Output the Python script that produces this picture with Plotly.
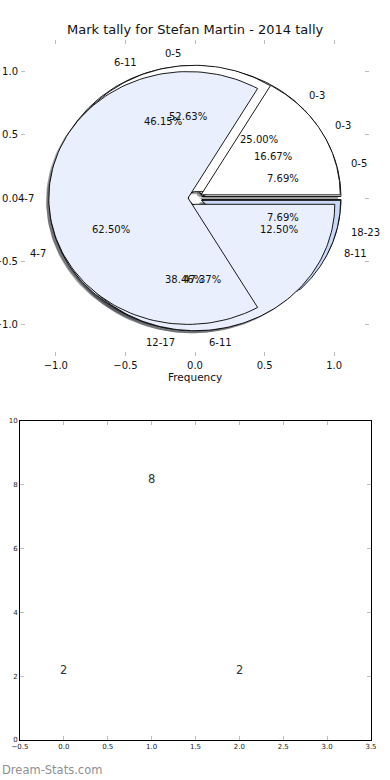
import numpy as np
import plotly.graph_objects as go

W, H = 390, 780

# ---------------- data ----------------
# overlapping pies (drawn bottom -> top), each wedge exploded
pie_b_labels = ["0-5", "6-11", "12-17", "18-23"]
pie_b_values = [1, 6, 5, 1]

pie_c_labels = ["0-3", "4-7", "8-11"]
pie_c_values = [2, 5, 1]

pie_a_labels = ["0-5", "6-11"]
pie_a_values = [10, 9]

pie_d_labels = ["0-3", "4-7"]
pie_d_values = [1, 4]
pie_d_total = 6            # fractions not normalised: this pie does not close
pie_d_show_pct = [True, False]

bar_x = [0, 1, 2]
bar_values = [2, 8, 2]

title_text = "Mark tally for Stefan Martin - 2014 tally"
xlabel_text = "Frequency"
watermark_text = "Dream-Stats.com"

# ---------------- style ----------------
WHITE = (255, 255, 255)
LIGHT = (233, 239, 252)
DARK = (200, 216, 246)
palette = [WHITE, LIGHT, DARK]
EXPLODE = 0.05
FONT = "DejaVu Sans"


def rgb(c, a=None):
    if a is None:
        return "rgb(%d,%d,%d)" % c
    return "rgba(%d,%d,%d,%.2f)" % (c[0], c[1], c[2], a)


pies = [
    dict(labels=pie_b_labels, values=pie_b_values, total=sum(pie_b_values),
         show_pct=[True] * len(pie_b_values)),
    dict(labels=pie_c_labels, values=pie_c_values, total=sum(pie_c_values),
         show_pct=[True] * len(pie_c_values)),
    dict(labels=pie_a_labels, values=pie_a_values, total=sum(pie_a_values),
         show_pct=[True] * len(pie_a_values)),
    dict(labels=pie_d_labels, values=pie_d_values, total=pie_d_total,
         show_pct=pie_d_show_pct),
]

# compute wedges
wedges = []
for p in pies:
    t1 = 0.0
    for i, (lab, v) in enumerate(zip(p["labels"], p["values"])):
        frac = v / p["total"]
        t2 = t1 + 360.0 * frac
        mid = np.deg2rad((t1 + t2) / 2)
        cx, cy = EXPLODE * np.cos(mid), EXPLODE * np.sin(mid)
        ts = np.deg2rad(np.linspace(t1, t2, 120))
        xs = np.concatenate([[cx], cx + np.cos(ts), [cx]])
        ys = np.concatenate([[cy], cy + np.sin(ts), [cy]])
        wedges.append(dict(x=xs, y=ys, color=palette[i % len(palette)], label=lab,
                           pct=100 * frac, mid=mid, show_pct=p["show_pct"][i]))
        t1 = t2

fig = go.Figure()

# shadows first (below every wedge)
for w in wedges:
    sc = tuple(int(round(0.3 * c)) for c in w["color"])
    fig.add_trace(go.Scatter(x=w["x"] - 0.02, y=w["y"] - 0.02, mode="lines", fill="toself",
                             fillcolor=rgb(sc, 0.5), line=dict(width=0), hoverinfo="skip",
                             showlegend=False, xaxis="x", yaxis="y"))
# wedges
for w in wedges:
    fig.add_trace(go.Scatter(x=w["x"], y=w["y"], mode="lines", fill="toself",
                             fillcolor=rgb(w["color"]), line=dict(color="black", width=0.9),
                             hoverinfo="skip", showlegend=False, xaxis="x", yaxis="y"))

ann = []
for w in wedges:
    lx = (1.1 + EXPLODE) * np.cos(w["mid"])
    ly = (1.1 + EXPLODE) * np.sin(w["mid"])
    ann.append(dict(x=lx, y=ly, xref="x", yref="y", text=w["label"], showarrow=False,
                    xanchor="left" if lx > 0 else "right", yanchor="middle",
                    font=dict(family=FONT, size=10, color="#111"), borderpad=0))
    if w["show_pct"]:
        px = (0.6 + EXPLODE) * np.cos(w["mid"])
        py = (0.6 + EXPLODE) * np.sin(w["mid"])
        ann.append(dict(x=px, y=py, xref="x", yref="y", text="%.2f%%" % w["pct"],
                        showarrow=False, xanchor="center", yanchor="middle",
                        font=dict(family=FONT, size=10, color="#111"), borderpad=0))

# bottom panel: invisible bars, only their value labels show
fig.add_trace(go.Scatter(x=bar_x, y=bar_values, mode="markers",
                         marker=dict(size=1, color="rgba(0,0,0,0)"),
                         hoverinfo="skip", showlegend=False, xaxis="x2", yaxis="y2"))
for bx, bv in zip(bar_x, bar_values):
    ann.append(dict(x=bx, y=bv, xref="x2", yref="y2", text=str(bv), showarrow=False,
                    xanchor="center", yanchor="bottom", yshift=-2,
                    font=dict(family=FONT, size=11.5, color="#333"), borderpad=0))

ann.append(dict(x=0.5, y=1 - 30 / H, xref="paper", yref="paper", text=title_text,
                showarrow=False, xanchor="center", yanchor="middle",
                font=dict(family=FONT, size=13, color="#111")))
ann.append(dict(x=194.5 / W, y=1 - 377 / H, xref="paper", yref="paper", text=xlabel_text,
                showarrow=False, xanchor="center", yanchor="middle",
                font=dict(family=FONT, size=10.5, color="#111")))
ann.append(dict(x=0, y=1 - 770 / H, xref="paper", yref="paper", text=watermark_text,
                showarrow=False, xanchor="left", yanchor="middle",
                font=dict(family=FONT, size=11.5, color="#8f8f8f")))

tick_gray = "#bdbdbd"
common_top = dict(showgrid=False, zeroline=False, showline=True, linecolor="rgba(0,0,0,0)",
                  mirror="ticks", ticks="inside", ticklen=4, tickwidth=1, tickcolor=tick_gray,
                  tickfont=dict(family=FONT, size=10, color="#111"), tickformat=".1f",
                  automargin=False)
common_bot = dict(showgrid=False, zeroline=False, showline=True, linecolor="black", linewidth=1,
                  mirror="ticks", ticks="inside", ticklen=4, tickwidth=1, tickcolor=tick_gray,
                  tickfont=dict(family=FONT, size=7, color="#222"), automargin=False)

fig.update_layout(
    width=W, height=H, margin=dict(l=0, r=0, t=0, b=0, pad=0, autoexpand=False),
    paper_bgcolor="white", plot_bgcolor="white",
    xaxis=dict(domain=[21 / W, 369 / W], range=[-1.25, 1.25], anchor="y",
               tickvals=[-1, -0.5, 0, 0.5, 1], **common_top),
    yaxis=dict(domain=[1 - 356 / H, 1 - 40 / H], range=[-1.25, 1.25], anchor="x",
               tickvals=[-1, -0.5, 0, 0.5, 1], **common_top),
    xaxis2=dict(domain=[20 / W, 371 / W], range=[-0.5, 3.5], anchor="y2", dtick=0.5,
                tick0=-0.5, tickformat=".1f", **common_bot),
    yaxis2=dict(domain=[1 - 740 / H, 1 - 421 / H], range=[0, 10], anchor="x2", dtick=2,
                tickformat="d", **common_bot),
    annotations=ann,
    showlegend=False,
)

fig.write_html("out.html", config={"displayModeBar": False},
               post_script="document.body.style.margin='0';document.body.style.overflow='hidden';")
